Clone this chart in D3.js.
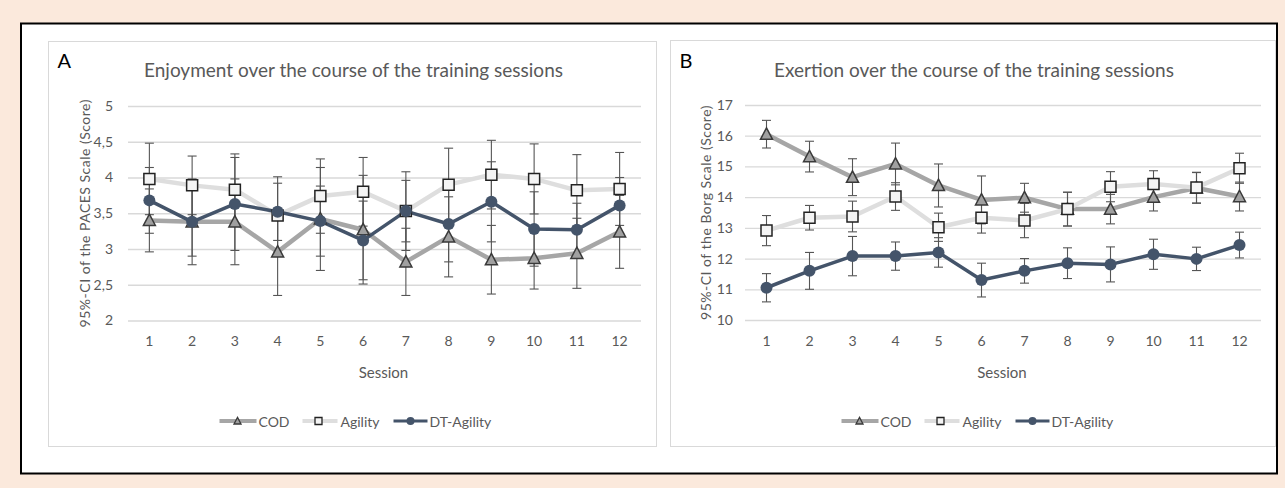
<!DOCTYPE html>
<html>
<head>
<meta charset="utf-8">
<script src="https://cdn.jsdelivr.net/npm/d3@7/dist/d3.min.js"></script>
<style>
  html, body { margin: 0; padding: 0; background: #fbe9dc; }
  svg { display: block; }
  text { font-family: Lato, "Open Sans", sans-serif; }
</style>
</head>
<body>
<svg id="chart" width="1285" height="488"></svg>
<script>
// ---------- DATA ----------
const sessions = ["1","2","3","4","5","6","7","8","9","10","11","12"];
const seriesNames = ["COD", "Agility", "DT-Agility"];

// Panel A: Enjoyment (PACES) – means and 95%-CI half widths
const enjoyCOD      = [3.40, 3.38, 3.38, 2.96, 3.42, 3.27, 2.82, 3.17, 2.85, 2.87, 2.94, 3.24];
const enjoyCODci    = [0.44, 0.60, 0.60, 0.61, 0.72, 0.76, 0.47, 0.56, 0.48, 0.43, 0.49, 0.51];
const enjoyAgility  = [3.98, 3.89, 3.83, 3.47, 3.74, 3.80, 3.53, 3.90, 4.04, 3.98, 3.82, 3.84];
const enjoyAgilityCi= [0.50, 0.41, 0.50, 0.54, 0.52, 0.48, 0.55, 0.51, 0.48, 0.49, 0.50, 0.51];
const enjoyDT       = [3.68, 3.38, 3.63, 3.52, 3.39, 3.12, 3.53, 3.35, 3.66, 3.28, 3.27, 3.61];
const enjoyDTci     = [0.46, 0.48, 0.65, 0.40, 0.49, 0.55, 0.43, 0.53, 0.56, 0.52, 0.37, 0.39];
const enjoyTicks    = [2, 2.5, 3, 3.5, 4, 4.5, 5];

// Panel B: Exertion (Borg) – means and 95%-CI half widths
const exertCOD      = [16.05, 15.32, 14.65, 15.08, 14.38, 13.91, 13.98, 13.61, 13.61, 14.00, 14.30, 14.02];
const exertCODci    = [0.45, 0.50, 0.60, 0.68, 0.70, 0.78, 0.47, 0.55, 0.48, 0.45, 0.50, 0.47];
const exertAgility  = [12.91, 13.33, 13.37, 14.02, 13.02, 13.33, 13.24, 13.61, 14.34, 14.43, 14.31, 14.94];
const exertAgilityCi= [0.49, 0.40, 0.50, 0.45, 0.46, 0.50, 0.56, 0.55, 0.49, 0.43, 0.50, 0.49];
const exertDT       = [11.05, 11.60, 12.08, 12.08, 12.20, 11.30, 11.60, 11.85, 11.81, 12.14, 11.99, 12.44];
const exertDTci     = [0.46, 0.60, 0.64, 0.46, 0.48, 0.55, 0.40, 0.50, 0.57, 0.49, 0.38, 0.42];
const exertTicks    = [10, 11, 12, 13, 14, 15, 16, 17];

const panelLetters = ["A", "B"];
const panelTitles  = ["Enjoyment  over the course of the training sessions",
                      "Exertion over the course of the training sessions"];
const yTitles      = ["95%-CI of the PACES Scale (Score)",
                      "95%-CI of the  Borg Scale (Score)"];
const xTitle = "Session";

// ---------- STYLE ----------
const styles = {
  "COD":        { line: "#a6a6a6", width: 4.5, marker: "triangle", fill: "#a0a0a0", stroke: "#3a3a3a" },
  "Agility":    { line: "#dedede", width: 4.5, marker: "square",   fill: "#f4f4f4", stroke: "#222222" },
  "DT-Agility": { line: "#44546a", width: 3.5, marker: "circle",   fill: "#44546a", stroke: "#44546a" }
};
const textGray = "#595959";
const gridGray = "#d9d9d9";

const svg = d3.select("#chart");

// outer framed box
svg.append("rect").attr("x", 21).attr("y", 23.5).attr("width", 1256).attr("height", 450)
  .attr("fill", "#ffffff").attr("stroke", "#000").attr("stroke-width", 2);

const panels = [
  { letter: panelLetters[0], title: panelTitles[0], yTitle: yTitles[0],
    box: [48.5, 41.5, 608, 405], plot: [128, 641], yRange: [320.5, 106], domain: [2, 5],
    ticks: enjoyTicks, fmt: v => String(v).replace(".", ","), pad: 15, yTitleX: 84,
    data: [enjoyCOD, enjoyAgility, enjoyDT], ci: [enjoyCODci, enjoyAgilityCi, enjoyDTci] },
  { letter: panelLetters[1], title: panelTitles[1], yTitle: yTitles[1],
    box: [670.5, 40.5, 605, 406], plot: [745, 1261], yRange: [320, 105], domain: [10, 17],
    ticks: exertTicks, fmt: v => String(v), pad: 12, yTitleX: 705,
    data: [exertCOD, exertAgility, exertDT], ci: [exertCODci, exertAgilityCi, exertDTci] }
];

function markerPath(type, size) {
  const h = size / 2;
  if (type === "triangle") {
    return `M0,${-h * 1.05}L${h},${h * 0.85}L${-h},${h * 0.85}Z`;
  } else if (type === "square") {
    return `M${-h},${-h}L${h},${-h}L${h},${h}L${-h},${h}Z`;
  }
  return d3.symbol().type(d3.symbolCircle).size(Math.PI * h * h)();
}

panels.forEach(p => {
  const g = svg.append("g");
  const [bx, by, bw, bh] = p.box;
  g.append("rect").attr("x", bx).attr("y", by).attr("width", bw).attr("height", bh)
    .attr("fill", "#fff").attr("stroke", gridGray).attr("stroke-width", 1);

  const x = d3.scaleBand().domain(sessions).range(p.plot);
  const cx = s => x(s) + x.bandwidth() / 2;
  const y = d3.scaleLinear().domain(p.domain).range(p.yRange);
  const plotW = p.plot[1] - p.plot[0];

  // y axis with gridlines
  const yAxis = d3.axisLeft(y).tickValues(p.ticks).tickFormat(p.fmt)
    .tickSize(-plotW).tickPadding(p.pad);
  const ya = g.append("g").attr("transform", `translate(${p.plot[0]},0)`).call(yAxis);
  ya.select(".domain").remove();
  ya.selectAll("line").attr("stroke", gridGray).attr("stroke-width", 1.3);
  ya.selectAll("text").attr("fill", textGray).attr("font-size", 14)
    .style("font-family", "Lato, sans-serif");

  // x axis
  const xAxis = d3.axisBottom(x).tickSize(0).tickPadding(16);
  const xa = g.append("g").attr("transform", `translate(0,${p.yRange[0]})`).call(xAxis);
  xa.select(".domain").remove();
  xa.selectAll("text").attr("fill", textGray).attr("font-size", 14)
    .style("font-family", "Lato, sans-serif");

  // titles
  const panelCx = bx + bw / 2;
  g.append("text").attr("x", bx + 9).attr("y", 68).text(p.letter)
    .attr("font-size", 20).attr("fill", "#000");
  g.append("text").attr("x", panelCx + 1).attr("y", 77).attr("text-anchor", "middle")
    .attr("font-size", 19).attr("fill", textGray).text(p.title);
  g.append("text").attr("transform", `translate(${p.yTitleX},${(p.yRange[0] + p.yRange[1]) / 2}) rotate(-90)`)
    .attr("text-anchor", "middle").attr("dominant-baseline", "central")
    .attr("font-size", 14).attr("letter-spacing", 0.5).attr("fill", textGray).text(p.yTitle);
  g.append("text").attr("x", (p.plot[0] + p.plot[1]) / 2 - 1).attr("y", 378)
    .attr("text-anchor", "middle").attr("font-size", 15).attr("fill", textGray).text(xTitle);

  // lines
  const line = d3.line().x((d, i) => cx(sessions[i])).y(d => y(d));
  seriesNames.forEach((name, k) => {
    const st = styles[name];
    g.append("path").datum(p.data[k]).attr("d", line)
      .attr("fill", "none").attr("stroke", st.line).attr("stroke-width", st.width)
      .attr("stroke-linejoin", "round");
  });

  // error bars
  seriesNames.forEach((name, k) => {
    const eb = g.append("g").attr("stroke", "#555").attr("stroke-width", 1.1);
    p.data[k].forEach((v, i) => {
      const xx = cx(sessions[i]);
      const lo = y(v - p.ci[k][i]), hi = y(v + p.ci[k][i]);
      eb.append("line").attr("x1", xx).attr("x2", xx).attr("y1", lo).attr("y2", hi);
      eb.append("line").attr("x1", xx - 4.5).attr("x2", xx + 4.5).attr("y1", lo).attr("y2", lo);
      eb.append("line").attr("x1", xx - 4.5).attr("x2", xx + 4.5).attr("y1", hi).attr("y2", hi);
    });
  });

  // markers
  seriesNames.forEach((name, k) => {
    const st = styles[name];
    const size = st.marker === "circle" ? 12 : (st.marker === "triangle" ? 12 : 11);
    g.append("g").selectAll("path").data(p.data[k]).join("path")
      .attr("transform", (d, i) => `translate(${cx(sessions[i])},${y(d)})`)
      .attr("d", markerPath(st.marker, size))
      .attr("fill", st.fill).attr("stroke", st.stroke)
      .attr("stroke-width", st.marker === "circle" ? 0 : 1.5);
  });

  // legend
  const ly = 421;
  const legendItems = [
    { name: "COD",        l0: 171, l1: 208, m: 189, t: 210 },
    { name: "Agility",    l0: 254, l1: 289, m: 270, t: 292 },
    { name: "DT-Agility", l0: 345, l1: 379, m: 362, t: 381 }
  ];
  legendItems.forEach(it => {
    const st = styles[it.name];
    g.append("line").attr("x1", bx + it.l0).attr("x2", bx + it.l1).attr("y1", ly).attr("y2", ly)
      .attr("stroke", st.line).attr("stroke-width", st.width - 0.5);
    g.append("path").attr("transform", `translate(${bx + it.m},${ly})`)
      .attr("d", markerPath(st.marker, st.marker === "circle" ? 8 : 7))
      .attr("fill", st.fill).attr("stroke", st.stroke)
      .attr("stroke-width", st.marker === "circle" ? 0 : 1.3);
    g.append("text").attr("x", bx + it.t).attr("y", ly).attr("dominant-baseline", "central")
      .attr("font-size", 14).attr("fill", textGray).text(it.name);
  });
});
</script>
</body>
</html>
